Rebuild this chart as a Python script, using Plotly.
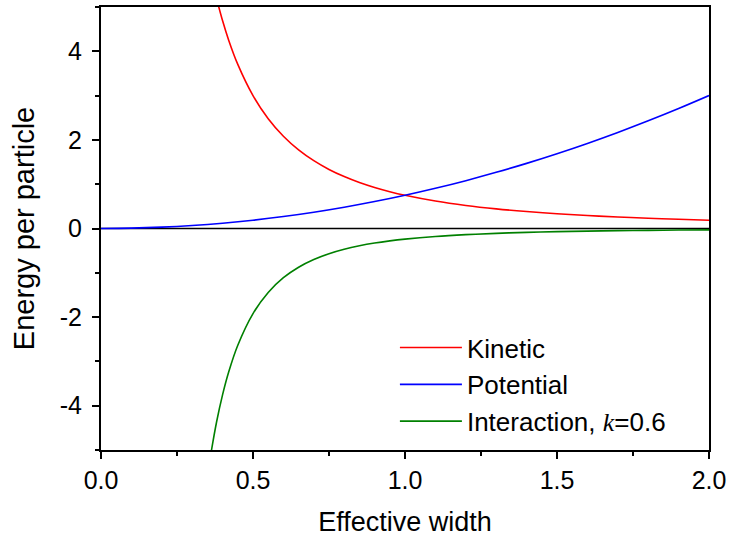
import plotly.graph_objects as go

# Data
kin_x = [0.38, 0.40, 0.42, 0.45, 0.50, 0.55, 0.60, 0.65, 0.70, 0.75, 0.80, 0.85, 0.90, 0.95,
         1.00, 1.10, 1.20, 1.30, 1.40, 1.50, 1.60, 1.70, 1.80, 1.90, 2.00]
kin_y = [5.194, 4.688, 4.252, 3.704, 3.000, 2.479, 2.083, 1.775, 1.531, 1.333, 1.172, 1.038, 0.926, 0.831,
         0.750, 0.620, 0.521, 0.444, 0.383, 0.333, 0.293, 0.260, 0.231, 0.208, 0.1875]

pot_x = [0.0, 0.1, 0.2, 0.3, 0.4, 0.5, 0.6, 0.7, 0.8, 0.9, 1.0, 1.1, 1.2, 1.3, 1.4, 1.5, 1.6, 1.7,
         1.8, 1.9, 2.0]
pot_y = [0.0, 0.0075, 0.03, 0.0675, 0.12, 0.1875, 0.27, 0.3675, 0.48, 0.6075, 0.75, 0.9075, 1.08,
         1.2675, 1.47, 1.6875, 1.92, 2.1675, 2.43, 2.7075, 3.0]

int_x = [0.36, 0.38, 0.40, 0.42, 0.45, 0.50, 0.55, 0.60, 0.65, 0.70, 0.75, 0.80, 0.85, 0.90, 0.95,
         1.00, 1.10, 1.20, 1.30, 1.40, 1.50, 1.60, 1.70, 1.80, 1.90, 2.00]
int_y = [-5.144, -4.374, -3.750, -3.239, -2.634, -1.920, -1.443, -1.111, -0.874, -0.700, -0.569,
         -0.469, -0.391, -0.329, -0.280, -0.240, -0.180, -0.139, -0.109, -0.0875, -0.0711, -0.0586,
         -0.0488, -0.0412, -0.0350, -0.030]

x_ticks = [0.0, 0.5, 1.0, 1.5, 2.0]
x_labels = ["0.0", "0.5", "1.0", "1.5", "2.0"]
y_ticks = [-4, -2, 0, 2, 4]
y_labels = ["-4", "-2", "0", "2", "4"]

FONT = "Liberation Sans, Arial, sans-serif"

fig = go.Figure()
fig.add_trace(go.Scatter(x=kin_x, y=kin_y, mode="lines", name="Kinetic",
                         line=dict(color="#ff0000", width=1.6, shape="spline")))
fig.add_trace(go.Scatter(x=pot_x, y=pot_y, mode="lines", name="Potential",
                         line=dict(color="#0000ff", width=1.6, shape="spline")))
fig.add_trace(go.Scatter(x=int_x, y=int_y, mode="lines",
                         name="Interaction, <span style='font-family:Liberation Serif'><i>k</i></span>=0.6",
                         line=dict(color="#008000", width=1.6, shape="spline")))

axis_common = dict(
    showline=True, linecolor="black", linewidth=2, mirror=True,
    ticks="outside", ticklen=7, tickwidth=1.5, tickcolor="black",
    showgrid=False, zeroline=False,
    tickfont=dict(family=FONT, size=25, color="black"),
)

fig.update_xaxes(range=[0, 2], tickvals=x_ticks, ticktext=x_labels,
                 minor=dict(ticks="outside", ticklen=4, tickwidth=1.5, tickcolor="black", dtick=0.25),
                 title=dict(text="Effective width", font=dict(family=FONT, size=27, color="black"),
                            standoff=19),
                 **axis_common)
fig.update_yaxes(range=[-5, 5], tickvals=y_ticks, ticktext=y_labels, ticklabelstandoff=5,
                 minor=dict(ticks="outside", ticklen=4, tickwidth=1.5, tickcolor="black", dtick=1),
                 title=dict(text="Energy per particle", font=dict(family=FONT, size=29, color="black"),
                            standoff=17),
                 **axis_common)

fig.add_hline(y=0, line=dict(color="black", width=1.5), layer="below")

fig.update_layout(
    width=731, height=542,
    margin=dict(l=101, r=22, t=5, b=92),
    paper_bgcolor="white", plot_bgcolor="white",
    showlegend=True,
    legend=dict(x=0.4834, y=0.011, xanchor="left", yanchor="bottom", itemwidth=62,
                bgcolor="rgba(0,0,0,0)", font=dict(family=FONT, size=26, color="black"),
                tracegroupgap=0),
)

fig.write_html("out.html", config={"displayModeBar": False},
               post_script="document.body.style.margin='0';document.body.style.padding='0';")
